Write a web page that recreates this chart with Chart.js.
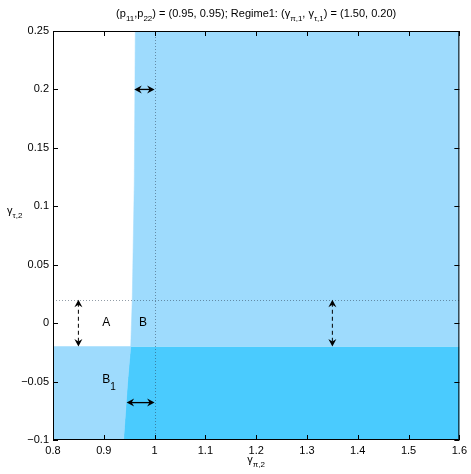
<!DOCTYPE html>
<html>
<head>
<meta charset="utf-8">
<script src="https://cdn.jsdelivr.net/npm/chart.js@4/dist/chart.umd.min.js"></script>
<style>
    body { margin: 0; background: #fff; }
    #myChart { display: block; }
</style>
</head>
<body>
<canvas id="myChart" width="471" height="474"></canvas>
<script>
// axis ranges and tick labels
const xTicks = [0.8, 0.9, 1.0, 1.1, 1.2, 1.3, 1.4, 1.5, 1.6];
const xTickLabels = ['0.8', '0.9', '1', '1.1', '1.2', '1.3', '1.4', '1.5', '1.6'];
const yTicks = [-0.1, -0.05, 0, 0.05, 0.1, 0.15, 0.2, 0.25];
const yTickLabels = ['\u22120.1', '\u22120.05', '0', '0.05', '0.1', '0.15', '0.2', '0.25'];

// determinacy boundary (gamma_pi,2 as a function of gamma_tau,2), top to bottom
const boundaryY = [0.25, 0.12, 0.02, -0.02, -0.05, -0.1];
const boundaryX = [0.962, 0.960, 0.956, 0.953, 0.947, 0.939];

// reference levels
const lowerEdge = -0.02;   // top of the lower band
const dottedY = 0.02;
const dottedX = 1.0;

// arrows: [x1, y1, x2, y2, dashed]
const arrows = [
    [0.96, 0.2, 1.0, 0.2, false],
    [0.945, -0.068, 1.0, -0.068, false],
    [0.85, 0.02, 0.85, -0.02, true],
    [1.35, 0.02, 1.35, -0.02, true]
];

// region labels: [text, subscript, x, y]
const regionLabels = [
    ['A', '', 0.905, 0.0],
    ['B', '', 0.977, 0.0],
    ['B', '1', 0.905, -0.048]
];

const lightBlue = 'rgb(158, 219, 253)';
const darkBlue = 'rgb(74, 203, 254)';

function pts(xs, ys) {
    return xs.map((x, i) => ({ x: x, y: ys[i] }));
}

// split boundary at the lower band edge
const upperIdx = boundaryY.filter(y => y >= lowerEdge).length;
const upperBoundary = pts(boundaryX.slice(0, upperIdx), boundaryY.slice(0, upperIdx));
const lowerBoundary = pts(boundaryX.slice(upperIdx - 1), boundaryY.slice(upperIdx - 1));

const upperRegion = [
    { x: 1.6, y: 0.25 },
    { x: 1.6, y: lowerEdge },
    ...upperBoundary.slice().reverse()
];
const lowerLeft = [
    { x: 0.8, y: lowerEdge },
    ...lowerBoundary,
    { x: 0.8, y: -0.1 }
];
const lowerRight = [
    { x: 1.6, y: lowerEdge },
    { x: 1.6, y: -0.1 },
    ...lowerBoundary.slice().reverse()
];

function region(data, color) {
    return {
        data: data,
        showLine: true,
        fill: 'shape',
        backgroundColor: color,
        borderColor: color,
        borderWidth: 0.5,
        pointRadius: 0,
        tension: 0
    };
}

// draws text segments, some of them as subscripts
function drawRich(ctx, parts, x, y, size, align) {
    const subSize = Math.round(size * 0.75);
    let total = 0;
    for (const p of parts) {
        ctx.font = (p.sub ? subSize : size) + 'px "Liberation Sans", Arial, sans-serif';
        total += ctx.measureText(p.t).width;
    }
    let cx = align === 'center' ? x - total / 2 : x;
    ctx.textAlign = 'left';
    ctx.textBaseline = 'alphabetic';
    for (const p of parts) {
        ctx.font = (p.sub ? subSize : size) + 'px "Liberation Sans", Arial, sans-serif';
        ctx.fillText(p.t, cx, p.sub ? y + 4 : y);
        cx += ctx.measureText(p.t).width;
    }
}

function arrowHead(ctx, x, y, angle) {
    const len = 7.5, half = 4;
    ctx.save();
    ctx.translate(x, y);
    ctx.rotate(angle);
    ctx.beginPath();
    ctx.moveTo(0, 0);
    ctx.lineTo(-len, -half);
    ctx.lineTo(-len + 2.5, 0);
    ctx.lineTo(-len, half);
    ctx.closePath();
    ctx.fill();
    ctx.restore();
}

const overlay = {
    id: 'overlay',
    afterDatasetsDraw(chart) {
        const ctx = chart.ctx;
        const xs = chart.scales.x, ys = chart.scales.y;
        const a = chart.chartArea;
        ctx.save();

        // dotted reference lines
        ctx.strokeStyle = 'rgba(40, 60, 80, 0.5)';
        ctx.lineWidth = 1;
        ctx.setLineDash([1, 2]);
        const px = Math.round(xs.getPixelForValue(dottedX)) + 0.5;
        const py = Math.round(ys.getPixelForValue(dottedY)) + 0.5;
        ctx.beginPath();
        ctx.moveTo(px, a.top);
        ctx.lineTo(px, a.bottom);
        ctx.moveTo(a.left, py);
        ctx.lineTo(a.right, py);
        ctx.stroke();

        // arrows
        ctx.strokeStyle = '#000';
        ctx.fillStyle = '#000';
        for (const [x1, y1, x2, y2, dashed] of arrows) {
            const p1 = { x: xs.getPixelForValue(x1), y: ys.getPixelForValue(y1) };
            const p2 = { x: xs.getPixelForValue(x2), y: ys.getPixelForValue(y2) };
            const ang = Math.atan2(p2.y - p1.y, p2.x - p1.x);
            ctx.setLineDash(dashed ? [4, 3] : []);
            ctx.lineWidth = dashed ? 1 : 1.3;
            ctx.beginPath();
            ctx.moveTo(p1.x + 3 * Math.cos(ang), p1.y + 3 * Math.sin(ang));
            ctx.lineTo(p2.x - 3 * Math.cos(ang), p2.y - 3 * Math.sin(ang));
            ctx.stroke();
            ctx.setLineDash([]);
            arrowHead(ctx, p2.x, p2.y, ang);
            arrowHead(ctx, p1.x, p1.y, ang + Math.PI);
        }

        // region labels
        ctx.fillStyle = '#000';
        for (const [t, sub, x, y] of regionLabels) {
            const lx = xs.getPixelForValue(x), ly = ys.getPixelForValue(y);
            ctx.font = '12px "Liberation Sans", Arial, sans-serif';
            const w = ctx.measureText(t).width;
            ctx.textAlign = 'left';
            ctx.textBaseline = 'middle';
            ctx.fillText(t, lx - w / 2, ly);
            if (sub) {
                ctx.font = '10px "Liberation Sans", Arial, sans-serif';
                ctx.fillText(sub, lx + w / 2, ly + 8);
            }
        }

        // axes box with inward ticks
        ctx.strokeStyle = '#000';
        ctx.lineWidth = 1;
        ctx.beginPath();
        ctx.rect(a.left + 0.5, a.top + 0.5, a.right - a.left - 1, a.bottom - a.top - 1);
        const tl = 5;
        for (const t of xs.ticks) {
            const x = Math.round(xs.getPixelForValue(t.value)) + 0.5;
            ctx.moveTo(x, a.bottom);
            ctx.lineTo(x, a.bottom - tl);
            ctx.moveTo(x, a.top);
            ctx.lineTo(x, a.top + tl);
        }
        for (const t of ys.ticks) {
            const y = Math.round(ys.getPixelForValue(t.value)) + 0.5;
            ctx.moveTo(a.left, y);
            ctx.lineTo(a.left + tl, y);
            ctx.moveTo(a.right, y);
            ctx.lineTo(a.right - tl, y);
        }
        ctx.stroke();

        // title and axis labels
        ctx.fillStyle = '#000';
        const cx = (a.left + a.right) / 2;
        drawRich(ctx, [
            { t: '(p' }, { t: '11', sub: true }, { t: ',p' }, { t: '22', sub: true },
            { t: ') = (0.95, 0.95); Regime1: (\u03b3' }, { t: '\u03c0,1', sub: true },
            { t: ', \u03b3' }, { t: '\u03c4,1', sub: true }, { t: ') = (1.50, 0.20)' }
        ], cx, 17, 11, 'center');
        drawRich(ctx, [{ t: '\u03b3' }, { t: '\u03c0,2', sub: true }], cx, 463, 11, 'center');
        drawRich(ctx, [{ t: '\u03b3' }, { t: '\u03c4,2', sub: true }], 7, 214, 11, 'left');

        ctx.restore();
    }
};

const ctx = document.getElementById('myChart');

const myChart = new Chart(ctx, {
    type: 'scatter',
    data: {
        datasets: [
            region(upperRegion, lightBlue),
            region(lowerLeft, lightBlue),
            region(lowerRight, darkBlue)
        ]
    },
    options: {
        responsive: false,
        animation: false,
        devicePixelRatio: 1,
        layout: { padding: { top: 31, right: 9, left: 0, bottom: 0 } },
        plugins: {
            legend: { display: false },
            tooltip: { enabled: false }
        },
        scales: {
            x: {
                type: 'linear',
                min: 0.8,
                max: 1.6,
                grid: { display: false, drawTicks: false },
                border: { display: false },
                afterBuildTicks: (scale) => { scale.ticks = xTicks.map(v => ({ value: v })); },
                afterFit: (scale) => { scale.height = 34; },
                ticks: {
                    autoSkip: false,
                    maxRotation: 0,
                    padding: 4,
                    color: '#000',
                    font: { family: '"Liberation Sans", Arial, sans-serif', size: 11 },
                    callback: (value, index) => xTickLabels[index]
                }
            },
            y: {
                type: 'linear',
                min: -0.1,
                max: 0.25,
                grid: { display: false, drawTicks: false },
                border: { display: false },
                afterBuildTicks: (scale) => { scale.ticks = yTicks.map(v => ({ value: v })); },
                afterFit: (scale) => { scale.width = 53; },
                ticks: {
                    autoSkip: false,
                    padding: 4,
                    color: '#000',
                    font: { family: '"Liberation Sans", Arial, sans-serif', size: 11 },
                    callback: (value, index) => yTickLabels[index]
                }
            }
        }
    },
    plugins: [overlay]
});
</script>
</body>
</html>
